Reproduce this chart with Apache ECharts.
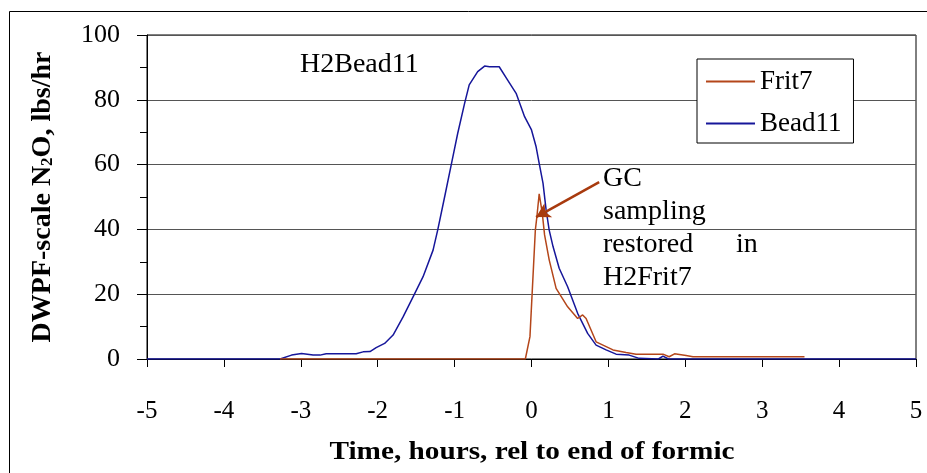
<!DOCTYPE html>
<html>
<head>
<meta charset="utf-8">
<script src="https://cdn.jsdelivr.net/npm/echarts@6/dist/echarts.min.js"></script>
<style>html,body{margin:0;padding:0;background:#fff}#c{width:927px;height:473px}</style>
</head>
<body>
<div id="c"></div>
<script>
// ---- data ----
var bead11Time = [-5, -3.27, -3.12, -2.99, -2.84, -2.75, -2.67, -2.28, -2.19, -2.10, -2.02, -1.91, -1.80, -1.67, -1.54, -1.41, -1.28, -1.22, -1.13, -1.04, -0.96, -0.87, -0.81, -0.70, -0.61, -0.545, -0.42, -0.31, -0.20, -0.09, 0.00, 0.06, 0.10, 0.15, 0.19, 0.23, 0.28, 0.36, 0.47, 0.60, 0.73, 0.84, 0.97, 1.10, 1.27, 1.40, 1.65, 1.71, 1.78, 5];
var bead11Value = [0, 0, 1.2, 1.7, 1.2, 1.2, 1.6, 1.6, 2.2, 2.3, 3.5, 4.8, 7.4, 13, 19.2, 25.4, 33.6, 39.8, 50, 60.4, 69.6, 78.9, 84.6, 88.7, 90.4, 90.2, 90.2, 86.1, 82, 74.8, 70.7, 65.5, 60.4, 54.2, 46, 39.8, 34.7, 28, 22.3, 14.1, 7.9, 4.3, 2.8, 1.5, 1.2, 0.2, 0, 0.9, 0, 0];
var frit7Time = [-3.27, -0.08, -0.02, 0.05, 0.07, 0.10, 0.14, 0.17, 0.23, 0.32, 0.47, 0.60, 0.665, 0.71, 0.84, 1.06, 1.23, 1.36, 1.71, 1.79, 1.86, 2.01, 2.10, 3.55];
var frit7Value = [0, 0, 6.9, 39.8, 43.9, 51, 45, 38.3, 30.6, 21.8, 16.1, 12.5, 13.6, 12.5, 5.3, 2.8, 2.0, 1.5, 1.5, 0.7, 1.6, 1.1, 0.7, 0.7];
var seriesNames = ['Frit7', 'Bead11'];
var arrowFrom = [0.88, 54.6];
var arrowTo = [0.06, 43.8];

function pairs(xs, ys) { return xs.map(function (x, i) { return [x, ys[i]]; }); }

var FONT = '"Liberation Serif", "Times New Roman", serif';
var ORANGE = '#B4461A';
var BLUE = '#16169A';

var chart = echarts.init(document.getElementById('c'));
chart.setOption({
  animation: false,
  backgroundColor: '#fff',
  grid: { left: 147, top: 35, width: 769, height: 324, show: true, borderColor: '#000', borderWidth: 1, backgroundColor: 'transparent' },
  legend: {
    orient: 'vertical', left: 697, top: 59,
    padding: [9, 12, 6, 9], itemGap: 15,
    itemWidth: 49, itemHeight: 2, icon: 'rect',
    backgroundColor: '#fff', borderColor: '#000', borderWidth: 1,
    textStyle: { fontFamily: FONT, fontSize: 27, color: '#000', lineHeight: 27 },
    data: seriesNames
  },
  xAxis: {
    type: 'value', min: -5, max: 5, interval: 1,
    axisLine: { onZero: false, lineStyle: { color: '#000', width: 1 } },
    axisTick: { show: true, length: 8, lineStyle: { color: '#000' } },
    axisLabel: { fontFamily: FONT, fontSize: 25, color: '#000', margin: 40 },
    splitLine: { show: false }
  },
  yAxis: {
    type: 'value', min: 0, max: 100, interval: 20,
    axisLine: { show: true, onZero: false, lineStyle: { color: '#000', width: 1 } },
    axisTick: { show: true, length: 10, lineStyle: { color: '#000' } },
    minorTick: { show: true, splitNumber: 2, length: 7, lineStyle: { color: '#000' } },
    axisLabel: { fontFamily: FONT, fontSize: 26, color: '#000', margin: 27 },
    splitLine: { show: true, lineStyle: { color: '#555', width: 1 } },
    name: '{b|DWPF-scale N}{s|2}{b|O, lbs/hr}', nameLocation: 'middle', nameGap: 90,
    nameTextStyle: {
      rich: {
        b: { fontFamily: FONT, fontSize: 28, fontWeight: 'bold', color: '#000', lineHeight: 30, verticalAlign: 'bottom' },
        s: { fontFamily: FONT, fontSize: 17, fontWeight: 'bold', color: '#000', lineHeight: 30, verticalAlign: 'bottom', padding: [0, 0, 1, 0] }
      }
    }
  },
  series: [
    {
      name: seriesNames[0], type: 'line', showSymbol: false, symbol: 'none', z: 3,
      lineStyle: { color: ORANGE, width: 1.5 }, itemStyle: { color: ORANGE },
      data: pairs(frit7Time, frit7Value),
      markLine: {
        silent: true, animation: false,
        symbol: ['none', 'arrow'], symbolSize: [12, 14],
        label: { show: false },
        lineStyle: { color: '#A83A0E', width: 2.5, type: 'solid' },
        data: [[{ coord: arrowFrom }, { coord: arrowTo }]]
      }
    },
    {
      name: seriesNames[1], type: 'line', showSymbol: false, symbol: 'none', z: 2,
      lineStyle: { color: BLUE, width: 1.5 }, itemStyle: { color: BLUE },
      data: pairs(bead11Time, bead11Value)
    }
  ],
  graphic: [
    { type: 'rect', silent: true, z: -10, shape: { x: 9.5, y: 11.5, width: 960, height: 520 }, style: { fill: 'none', stroke: '#000', lineWidth: 1 } },
    { type: 'text', x: 532, y: 453, scaleX: 1.17, style: { text: 'Time, hours, rel to end of formic', font: 'bold 25px ' + FONT, fill: '#000', align: 'center', verticalAlign: 'middle' } },
    { type: 'text', left: 300, top: 51, style: { text: 'H2Bead11', font: '28px ' + FONT, fill: '#000' } },
    { type: 'text', left: 603, top: 165, style: { text: 'GC', font: '28px ' + FONT, fill: '#000' } },
    { type: 'text', left: 603, top: 198, style: { text: 'sampling', font: '28px ' + FONT, fill: '#000' } },
    { type: 'text', left: 603, top: 231, style: { text: 'restored', font: '28px ' + FONT, fill: '#000' } },
    { type: 'text', left: 736, top: 231, style: { text: 'in', font: '28px ' + FONT, fill: '#000' } },
    { type: 'text', left: 603, top: 264, style: { text: 'H2Frit7', font: '28px ' + FONT, fill: '#000' } }
  ]
});
</script>
</body>
</html>
